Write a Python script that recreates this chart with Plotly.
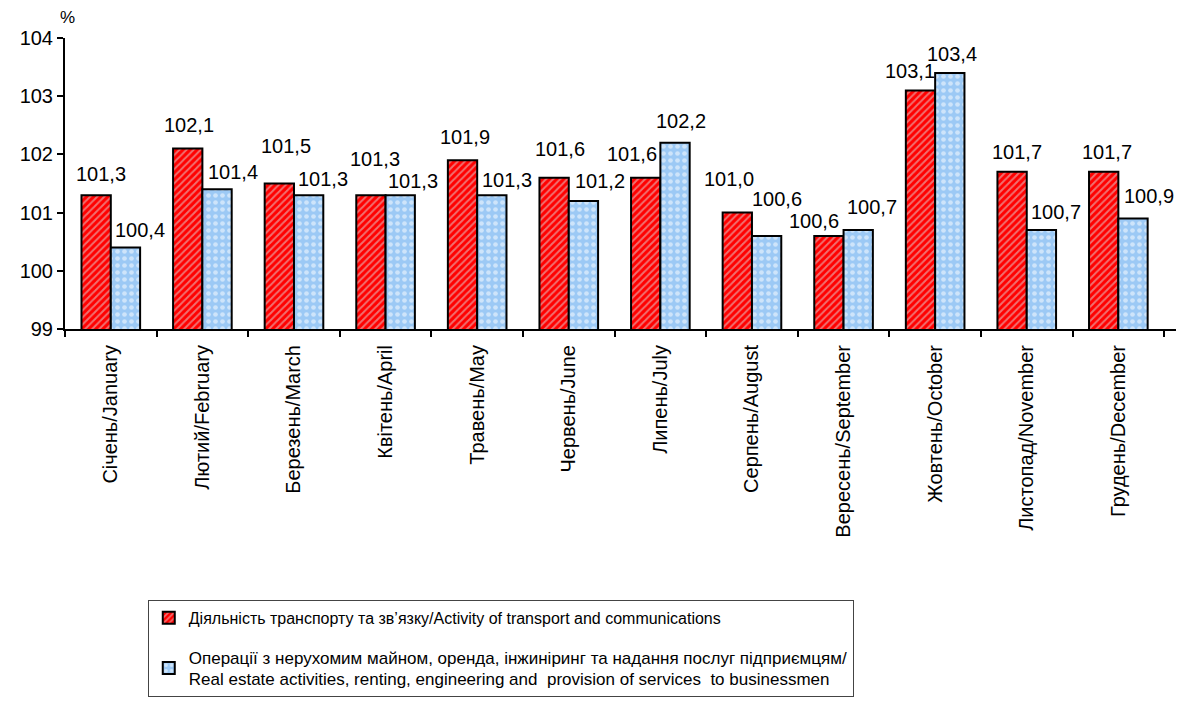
import plotly.graph_objects as go

months = ["Січень/January", "Лютий/February", "Березень/March", "Квітень/April",
          "Травень/May", "Червень/June", "Липень/July", "Серпень/August",
          "Вересень/September", "Жовтень/October", "Листопад/November", "Грудень/December"]
transport = [101.3, 102.1, 101.5, 101.3, 101.9, 101.6, 101.6, 101.0, 100.6, 103.1, 101.7, 101.7]
realestate = [100.4, 101.4, 101.3, 101.3, 101.3, 101.2, 102.2, 100.6, 100.7, 103.4, 100.7, 100.9]
name1 = "Діяльність транспорту та зв’язку/Activity of transport and communications"
name2 = ("<span style='font-size:17px'>Операції з нерухомим майном, оренда, інжиніринг та надання послуг підприємцям/<br>"
         "Real estate activities, renting, engineering and &nbsp;provision of services &nbsp;to businessmen</span>")
yticks = [99, 100, 101, 102, 103, 104]

# label nudges (pixels) relative to each bar's centre / top, as placed in the original
red_dx = [5, 1, 7, 4, 2, 6, -14, -8, -15, -11, 5, 3]
red_gap = [12, 15, 29, 27, 14, 20, 15, 25, 6, 10, 11, 11]
blue_dx = [15, 16, 14, 13, 15, 17, 6, 10, 14, 2, 15, 16]
blue_gap = [9, 8, 7, 5, 6, 11, 13, 28, 14, 10, 9, 13]

FONT = "Liberation Sans, Arial"
BARGAP = 0.36
HALF = (1 - BARGAP) / 4  # half of one bar width in category units

def fmt(v):
    return f"{v:.1f}".replace(".", ",")

fig = go.Figure()
fig.add_trace(go.Bar(
    x=months, y=transport, name=name1, legendgroup="g1",
    marker=dict(color="#ff0000", line=dict(color="black", width=2),
                pattern=dict(shape="/", fgcolor="#e0e0e0", bgcolor="#ff0000", size=5, solidity=0.4)),
))
fig.add_trace(go.Bar(
    x=months, y=realestate, name=name2, legendgroup="g2",
    marker=dict(color="#9cc9f5", line=dict(color="black", width=2),
                pattern=dict(shape=".", fgcolor="#ffffff", bgcolor="#9cc9f5", size=7, solidity=0.35)),
))

annots = []
for i, (v1, v2) in enumerate(zip(transport, realestate)):
    annots.append(dict(x=i - HALF, y=v1, xref="x", yref="y", text=fmt(v1), showarrow=False,
                       xanchor="center", yanchor="bottom", xshift=red_dx[i], yshift=red_gap[i] - 4,
                       font=dict(family=FONT, size=20, color="black")))
    annots.append(dict(x=i + HALF, y=v2, xref="x", yref="y", text=fmt(v2), showarrow=False,
                       xanchor="center", yanchor="bottom", xshift=blue_dx[i], yshift=blue_gap[i] - 4,
                       font=dict(family=FONT, size=20, color="black")))
annots.append(dict(text="%", xref="paper", yref="paper", x=0.0027, y=1.069,
                   xanchor="center", yanchor="middle", showarrow=False,
                   font=dict(family=FONT, size=17)))

fig.update_layout(
    width=1195, height=701,
    margin=dict(l=54, r=27, t=30, b=380),
    paper_bgcolor="white", plot_bgcolor="white",
    barmode="group", bargap=BARGAP, bargroupgap=0,
    font=dict(family=FONT, size=20, color="black"),
    showlegend=True,
    legend=dict(x=0.0745, y=-0.931, xanchor="left", yanchor="top",
                bgcolor="white", bordercolor="#444", borderwidth=1,
                font=dict(family=FONT, size=16, color="black"),
                tracegroupgap=16, itemwidth=30),
    xaxis=dict(showline=True, linecolor="black", linewidth=2,
               ticks="outside", ticklen=6, tickcolor="black", tickwidth=2,
               tickson="boundaries", tickangle=-90, ticklabelstandoff=6,
               tickfont=dict(family=FONT, size=20)),
    yaxis=dict(range=[99, 104], tickvals=yticks, showgrid=False, zeroline=False,
               showline=True, linecolor="black", linewidth=2,
               ticks="outside", ticklen=6, tickcolor="black", tickwidth=2,
               tickfont=dict(family=FONT, size=20)),
    annotations=annots,
)
fig.write_html("out.html")
